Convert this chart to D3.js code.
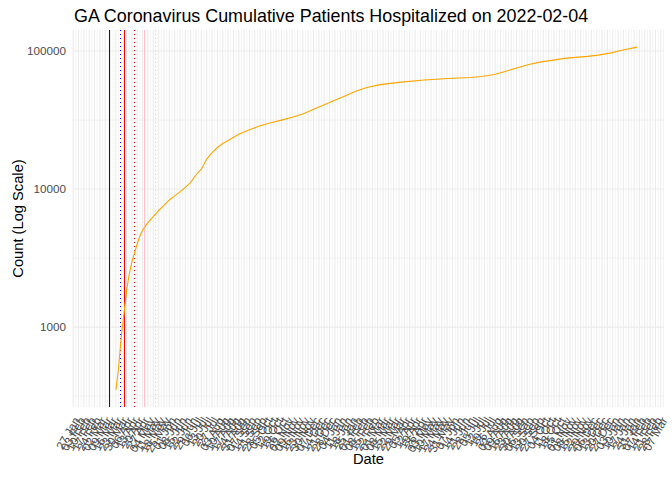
<!DOCTYPE html>
<html>
<head>
<meta charset="utf-8">
<script src="https://cdn.jsdelivr.net/npm/d3@7"></script>
<style>
  body { margin: 0; background: #ffffff; }
  svg { display: block; font-family: "Liberation Sans", Arial, sans-serif; }
</style>
</head>
<body>
<div id="chart"></div>
<script>
// GA cumulative hospitalizations
const reportDates = [
  "2020-03-02", "2020-03-23", "2020-03-26", "2020-03-30", "2020-04-02", "2020-04-06",
  "2020-04-09", "2020-04-13", "2020-04-16", "2020-04-20", "2020-04-24", "2020-04-28",
  "2020-05-04", "2020-05-11", "2020-05-18", "2020-05-25", "2020-06-01", "2020-06-08",
  "2020-06-15", "2020-06-22", "2020-06-29", "2020-07-06", "2020-07-13", "2020-07-20",
  "2020-07-27", "2020-08-03", "2020-08-10", "2020-08-17", "2020-08-31", "2020-09-14",
  "2020-09-28", "2020-10-12", "2020-10-26", "2020-11-09", "2020-11-23", "2020-12-07",
  "2020-12-21", "2021-01-04", "2021-01-18", "2021-02-01", "2021-02-15", "2021-03-01",
  "2021-03-15", "2021-04-01", "2021-05-01", "2021-06-01", "2021-07-01", "2021-07-15",
  "2021-08-01", "2021-08-15", "2021-09-01", "2021-09-15", "2021-10-01", "2021-10-15",
  "2021-11-01", "2021-11-15", "2021-12-01", "2021-12-15", "2022-01-01", "2022-01-15",
  "2022-02-04"
];
const hospitalized = [
  0, 351, 475, 845, 1177, 1823,
  2344, 2965, 3396, 4018, 4670, 5165,
  5714, 6322, 6995, 7606, 8337, 8917,
  9541, 10290, 11190, 12700, 13930, 16480,
  18380, 19990, 21380, 22490, 24950, 26910,
  28710, 30200, 31580, 33100, 35000, 37880,
  40830, 44040, 47510, 51260, 54350, 56640,
  58070, 59560, 61640, 63230, 64330, 65370,
  67580, 71070, 76040, 79980, 83410, 85500,
  88400, 89950, 91430, 93330, 97000, 101200,
  106700
];

// policy event lines: each date and the same date + 14 days
const eventDates = ["2020-03-14", "2020-03-28", "2020-04-02", "2020-04-16", "2020-04-29", "2020-05-13"];
const eventGroups = ["emergency", "emergency", "shelter", "shelter", "reopen", "reopen"];
const eventLagged = [false, true, false, true, false, true];

const yTicks = [1000, 10000, 100000];

const titleText = "GA Coronavirus Cumulative Patients Hospitalized on 2022-02-04";

const width = 672, height = 480;
const margin = { top: 30, right: 8, bottom: 73, left: 73 };

const parse = d3.utcParse("%Y-%m-%d");
const rows = reportDates.map((d, i) => ({ date: parse(d), value: hospitalized[i] }));
const events = eventDates.map((d, i) => ({ date: parse(d), group: eventGroups[i], lagged: eventLagged[i] }));

const svg = d3.select("#chart").append("svg")
  .attr("width", width)
  .attr("height", height);

// ggplot-like 5% expansion
const [d0, d1] = d3.extent(rows, d => d.date);
const span = d1 - d0;
const x = d3.scaleUtc()
  .domain([new Date(+d0 - span * 0.05), new Date(+d1 + span * 0.05)])
  .range([margin.left, width - margin.right]);

const positive = rows.filter(d => d.value > 0);
const [l0, l1] = d3.extent(positive, d => Math.log10(d.value));
const lspan = l1 - l0;
const y = d3.scaleLog()
  .domain([10 ** (l0 - lspan * 0.05), 10 ** (l1 + lspan * 0.05)])
  .range([height - margin.bottom, margin.top]);

const panelBottom = height - margin.bottom;
const grid = svg.append("g").attr("class", "grid");

// weekly breaks on Mondays, minor lines halfway
const xBreaks = d3.utcMonday.range(x.domain()[0], x.domain()[1]);
const xMinor = xBreaks.map(d => new Date(+d + 3.5 * 864e5)).filter(d => d < x.domain()[1]);

grid.selectAll(".minor-x")
  .data(xMinor)
  .join("line")
  .attr("x1", d => x(d)).attr("x2", d => x(d))
  .attr("y1", margin.top).attr("y2", panelBottom)
  .attr("stroke", "#ebebeb").attr("stroke-width", 0.53);

grid.selectAll(".major-x")
  .data(xBreaks)
  .join("line")
  .attr("x1", d => x(d)).attr("x2", d => x(d))
  .attr("y1", margin.top).attr("y2", panelBottom)
  .attr("stroke", "#ebebeb").attr("stroke-width", 1.07);

// horizontal grid: decades + half-decade minor lines
const minorY = [10 ** 2.5, 10 ** 3.5, 10 ** 4.5];
grid.selectAll(".minor-y")
  .data(minorY)
  .join("line")
  .attr("x1", margin.left).attr("x2", width - margin.right)
  .attr("y1", d => y(d)).attr("y2", d => y(d))
  .attr("stroke", "#ebebeb").attr("stroke-width", 0.6);

grid.selectAll(".major-y")
  .data(yTicks)
  .join("line")
  .attr("x1", margin.left).attr("x2", width - margin.right)
  .attr("y1", d => y(d)).attr("y2", d => y(d))
  .attr("stroke", "#ebebeb").attr("stroke-width", 1.07);

// event lines
const eventColor = { emergency: "blue", shelter: "red", reopen: "pink" };
svg.append("g")
  .attr("shape-rendering", "crispEdges")
  .selectAll("line")
  .data(events)
  .join("line")
  .attr("x1", d => Math.round(x(d.date)) + 0.5).attr("x2", d => Math.round(x(d.date)) + 0.5)
  .attr("y1", margin.top).attr("y2", panelBottom)
  .attr("stroke", d => eventColor[d.group])
  .attr("stroke-width", 1)
  .attr("stroke-dasharray", d => d.lagged ? "1 3" : null);

// cumulative line
const line = d3.line()
  .defined(d => d.value > 0)
  .x(d => x(d.date))
  .y(d => y(d.value));

svg.append("path")
  .datum(rows)
  .attr("fill", "none")
  .attr("stroke", "orange")
  .attr("stroke-width", 1.1)
  .attr("d", line);

// y axis labels
svg.append("g")
  .selectAll("text")
  .data(yTicks)
  .join("text")
  .attr("x", margin.left - 7)
  .attr("y", d => y(d))
  .attr("dy", "0.35em")
  .attr("text-anchor", "end")
  .attr("font-size", 11.7)
  .attr("fill", "#4d4d4d")
  .text(d => d3.format("d")(d));

// x axis labels (rotated, heavily overlapping like the source)
const fmt = d3.utcFormat("%d %b");
svg.append("g")
  .selectAll("text")
  .data(xBreaks)
  .join("text")
  .attr("transform", d => `translate(${x(d)},${panelBottom + 9}) rotate(-60)`)
  .attr("text-anchor", "end")
  .attr("dy", "0.71em")
  .attr("font-size", 11.7)
  .attr("fill", "#4d4d4d")
  .text(d => fmt(d));

// axis titles
svg.append("text")
  .attr("x", (margin.left + width - margin.right) / 2)
  .attr("y", 464)
  .attr("text-anchor", "middle")
  .attr("font-size", 14.7)
  .attr("fill", "#000")
  .text("Date");

svg.append("text")
  .attr("transform", `translate(23,${(margin.top + panelBottom) / 2}) rotate(-90)`)
  .attr("text-anchor", "middle")
  .attr("font-size", 14.7)
  .attr("fill", "#000")
  .text("Count (Log Scale)");

svg.append("text")
  .attr("x", margin.left + 1)
  .attr("y", 22)
  .attr("font-size", 17.9)
  .attr("fill", "#000")
  .text(titleText);
</script>
</body>
</html>
